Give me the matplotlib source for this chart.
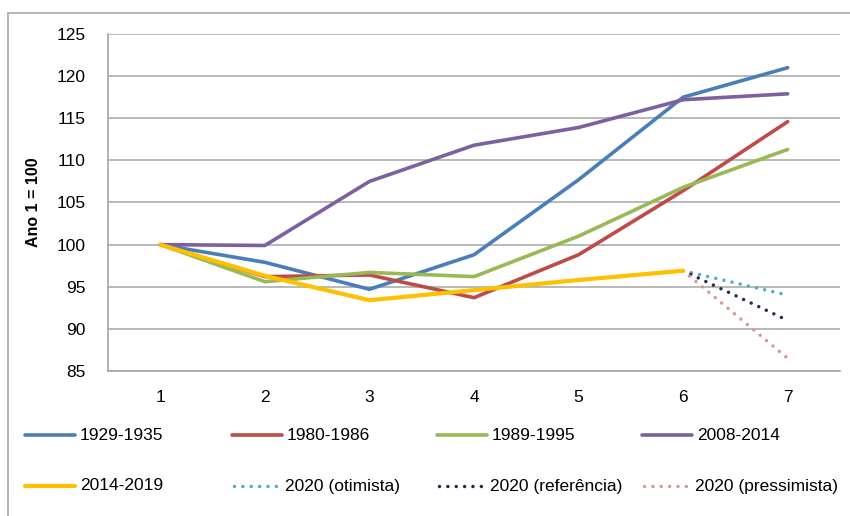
import matplotlib
matplotlib.use("Agg")
import matplotlib.pyplot as plt
from matplotlib.lines import Line2D

plt.rcParams['font.family'] = ['Liberation Sans', 'DejaVu Sans']

years = [1, 2, 3, 4, 5, 6, 7]
s_1929 = [100, 97.9, 94.7, 98.8, 107.7, 117.5, 121.0]
s_1980 = [100, 96.2, 96.4, 93.7, 98.8, 106.4, 114.6]
s_1989 = [100, 95.6, 96.7, 96.2, 101.0, 106.8, 111.3]
s_2008 = [100, 99.9, 107.5, 111.8, 113.9, 117.2, 117.9]
s_2014 = [100, 96.3, 93.4, 94.6, 95.8, 96.9]
years_2020 = [6, 7]
s_2020_otim = [96.9, 94.0]
s_2020_ref = [96.9, 91.0]
s_2020_pess = [96.9, 86.5]
y_ticks = [85, 90, 95, 100, 105, 110, 115, 120, 125]

W, H = 850, 516
fig = plt.figure(figsize=(W / 100, H / 100), dpi=100)
fig.patch.set_facecolor('white')

def fx(px):
    return px / W

def fy(py):
    return 1 - py / H

ax = fig.add_axes([fx(108), fy(371), fx(840) - fx(108), fy(34) - fy(371)])

LW = 2.6
DOT = (0, (0.01, 2.4))

solid = [
    ('1929-1935', years, s_1929, '#4A7EBB'),
    ('1980-1986', years, s_1980, '#BE4B48'),
    ('1989-1995', years, s_1989, '#98B954'),
    ('2008-2014', years, s_2008, '#7D60A0'),
]
dotted = [
    ('2020 (otimista)', years_2020, s_2020_otim, '#4BACC6'),
    ('2020 (referência)', years_2020, s_2020_ref, '#1F2D4A'),
    ('2020 (pressimista)', years_2020, s_2020_pess, '#D99694'),
]

for lab, xs, ys, c in solid:
    ax.plot(xs, ys, color=c, lw=LW, solid_capstyle='round', solid_joinstyle='round', zorder=3)
for lab, xs, ys, c in dotted:
    ax.plot(xs, ys, color=c, lw=2.5, linestyle=DOT, dash_capstyle='round', zorder=3)
ax.plot(years[:len(s_2014)], s_2014, color='#FFC000', lw=3.0,
        solid_capstyle='round', solid_joinstyle='round', zorder=4)

ax.set_xlim(0.5, 7.5)
ax.set_ylim(85, 125)
ax.set_yticks(y_ticks)
ax.set_xticks(years)
ax.set_xticklabels([str(v) for v in years])
ax.yaxis.grid(True, color='#A6A6A6', lw=1.1)
ax.set_axisbelow(True)
ax.tick_params(axis='both', length=0, labelsize=12.5, colors='#000000')
ax.tick_params(axis='y', pad=16)
ax.tick_params(axis='x', pad=14)
for side in ['top', 'right']:
    ax.spines[side].set_visible(False)
for side in ['left', 'bottom']:
    ax.spines[side].set_color('#A6A6A6')
    ax.spines[side].set_linewidth(1.2)
ax.set_ylabel('Ano 1 = 100', fontsize=11.5, fontweight='bold', labelpad=11)

# outer chart frame
fig.add_artist(Line2D([fx(8), fx(8)], [0, fy(13)], color='#B0B0B0', lw=1.3))
fig.add_artist(Line2D([fx(8), 1.0], [fy(13), fy(13)], color='#B0B0B0', lw=1.3))

# legend: two rows of four entries below the plot
entries = [(lab, c, '-', LW) for lab, _, _, c in solid]
entries.append(('2014-2019', '#FFC000', '-', 3.0))
entries += [(lab, c, ':', 2.5) for lab, _, _, c in dotted]
col_x = [25, 232, 437, 642]
row_y = [435, 486]
for i, (lab, c, ls, lw) in enumerate(entries):
    x0 = col_x[i % 4]
    y0 = row_y[i // 4]
    if ls == '-':
        fig.add_artist(Line2D([fx(x0), fx(x0 + 50)], [fy(y0), fy(y0)], color=c, lw=lw,
                              solid_capstyle='round'))
        tx = x0 + 55
    else:
        fig.add_artist(Line2D([fx(x0 + 2), fx(x0 + 45)], [fy(y0), fy(y0)], color=c, lw=lw,
                              linestyle=DOT, dash_capstyle='round'))
        tx = x0 + 53
    fig.text(fx(tx), fy(y0), lab, fontsize=12.5, va='center', ha='left', color='#000000')

fig.savefig('out.png', dpi=100, facecolor='white')
